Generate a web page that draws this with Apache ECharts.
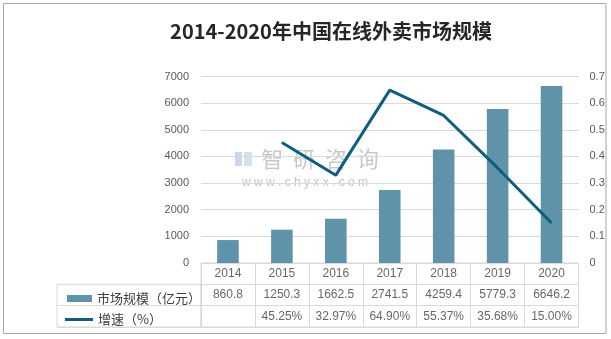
<!DOCTYPE html>
<html><head><meta charset="utf-8">
<script src="https://cdn.jsdelivr.net/npm/echarts@6/dist/echarts.min.js"></script>
<style>html,body{margin:0;padding:0;background:#fff}#c{width:611px;height:339px}</style>
</head><body><div id="c"></div>
<script>
var years = ['2014','2015','2016','2017','2018','2019','2020'];
var marketSize = [860.8, 1250.3, 1662.5, 2741.5, 4259.4, 5779.3, 6646.2];
var growthPct = [null, 45.25, 32.97, 64.90, 55.37, 35.68, 15.00];
var sizeLabels = ['860.8','1250.3','1662.5','2741.5','4259.4','5779.3','6646.2'];
var growthLabels = ['', '45.25%', '32.97%', '64.90%', '55.37%', '35.68%', '15.00%'];
var leftTicks = [0, 7000, 1000];
var rightTicks = [0, 0.7, 0.1];
var seriesNames = ['市场规模（亿元）', '增速（%）'];
var titleText = '2014-2020年中国在线外卖市场规模';

var FONT = '"Liberation Sans", "Noto Sans CJK SC", sans-serif';
var CJK = '"Noto Sans CJK SC", sans-serif';
var BAR = '#5e93a9';
var LINE = '#0e5e7f';
var GRIDC = '#d9d9d9';

var chart = echarts.init(document.getElementById('c'), null, {renderer: 'canvas'});

var tableRows = ['yr', 'sz', 'gr'];
var cellData = [];
years.forEach(function (y, i) {
  cellData.push({value: [y, 'yr', y]});
  cellData.push({value: [y, 'sz', sizeLabels[i]]});
  if (growthLabels[i]) cellData.push({value: [y, 'gr', growthLabels[i]]});
});

var option = {
  backgroundColor: '#fff',
  animation: false,
  graphic: [
    {type: 'rect', shape: {x: 3.5, y: 3.5, width: 602.5, height: 330}, style: {fill: 'none', stroke: '#a6a6a6', lineWidth: 1}, z: 100},
    {type: 'text', x: 331, y: 31, style: {text: titleText, fill: '#262626', font: 'bold 20px ' + CJK, textAlign: 'center', textVerticalAlign: 'middle'}},
    {type: 'rect', shape: {x: 235, y: 152, width: 7, height: 14}, style: {fill: '#c9d9ea'}, z: 0},
    {type: 'rect', shape: {x: 244, y: 152, width: 8, height: 14}, style: {fill: '#d4e2ef'}, z: 0},
    {type: 'text', x: 320, y: 159, style: {text: '智  研  咨  询', fill: '#c8c8c8', font: '22px ' + CJK, textAlign: 'center', textVerticalAlign: 'middle'}, z: 0},
    {type: 'text', x: 305, y: 183, style: {text: 'w w w . c h y x x . c o m', fill: '#c4c4c4', font: '12px ' + FONT, textAlign: 'center', textVerticalAlign: 'middle'}, z: 0}
  ],
  legend: [
    {data: [{name: seriesNames[0], icon: 'rect'}], left: 62, top: 287, itemWidth: 25, itemHeight: 7, itemGap: 0, selectedMode: false,
     textStyle: {fontFamily: CJK, fontSize: 13, color: '#404040'}},
    {data: [{name: seriesNames[1], icon: 'rect'}], left: 60, top: 308, itemWidth: 28, itemHeight: 3, itemGap: 0, selectedMode: false,
     itemStyle: {color: LINE},
     textStyle: {fontFamily: CJK, fontSize: 13, color: '#404040'}}
  ],
  grid: [
    {left: 201, right: 32.5, top: 76.5, bottom: 76, containLabel: false},
    {left: 201, right: 32.5, top: 263, height: 64, show: true, borderColor: GRIDC, borderWidth: 1, backgroundColor: 'transparent'},
    {left: 57, width: 144, top: 284.3, height: 42.7, show: true, borderColor: GRIDC, borderWidth: 1, backgroundColor: 'transparent'}
  ],
  xAxis: [
    {type: 'category', gridIndex: 0, data: years, axisLine: {show: false}, axisTick: {show: false}, axisLabel: {show: false}},
    {type: 'category', gridIndex: 1, data: years, boundaryGap: true, axisLine: {show: false}, axisTick: {show: false}, axisLabel: {show: false},
     splitLine: {show: true, lineStyle: {color: GRIDC, width: 1}}},
    {type: 'category', gridIndex: 2, data: ['x'], show: false}
  ],
  yAxis: [
    {type: 'value', gridIndex: 0, min: leftTicks[0], max: leftTicks[1], interval: leftTicks[2],
     axisLine: {show: false}, axisTick: {show: false},
     axisLabel: {color: '#595959', fontFamily: FONT, fontSize: 11, margin: 12, formatter: function (v) { return String(v); }},
     splitLine: {lineStyle: {color: GRIDC, width: 1}}},
    {type: 'value', gridIndex: 0, position: 'right', min: rightTicks[0], max: rightTicks[1], interval: rightTicks[2],
     axisLine: {show: false}, axisTick: {show: false},
     axisLabel: {color: '#595959', fontFamily: FONT, fontSize: 11, margin: 11, formatter: function (v) { return String(Math.round(v * 10) / 10); }},
     splitLine: {show: false}},
    {type: 'category', gridIndex: 1, data: tableRows, inverse: true, axisLine: {show: false}, axisTick: {show: false}, axisLabel: {show: false},
     splitLine: {show: true, lineStyle: {color: GRIDC, width: 1}}},
    {type: 'category', gridIndex: 2, data: ['sz', 'gr'], inverse: true, axisLine: {show: false}, axisTick: {show: false}, axisLabel: {show: false},
     splitLine: {show: true, lineStyle: {color: GRIDC, width: 1}}}
  ],
  series: [
    {name: seriesNames[0], type: 'bar', xAxisIndex: 0, yAxisIndex: 0, data: marketSize, barWidth: '40%',
     itemStyle: {color: BAR}, z: 2},
    {name: seriesNames[1], type: 'line', xAxisIndex: 0, yAxisIndex: 1,
     data: growthPct.map(function (v) { return v == null ? null : v / 100; }),
     symbol: 'none', lineStyle: {color: LINE, width: 3}, itemStyle: {color: LINE}, z: 3},
    {type: 'scatter', xAxisIndex: 1, yAxisIndex: 2, data: cellData, symbolSize: 1, itemStyle: {color: 'rgba(0,0,0,0)'},
     silent: true,
     label: {show: true, position: 'inside', formatter: function (p) { return p.value[2]; },
             color: '#404040', fontFamily: FONT, fontSize: 12}}
  ]
};
chart.setOption(option);
</script>
</body></html>
